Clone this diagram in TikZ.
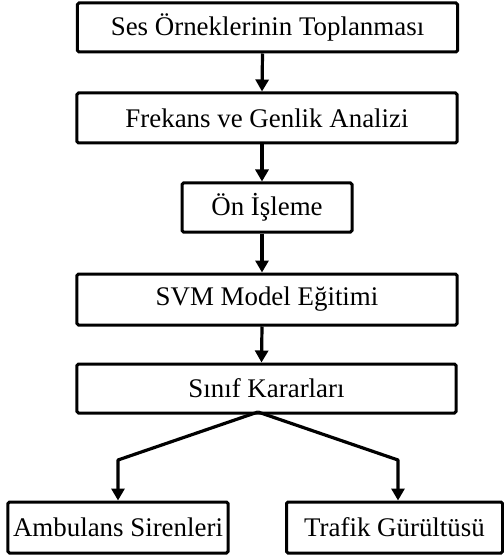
\documentclass[tikz,border=0pt]{standalone}
\usepackage{fontspec}
\setmainfont{Liberation Serif}
\usetikzlibrary{arrows.meta}

\tikzset{
    stepbox/.style={draw, line width=3bp, rounded corners=1.5bp, inner sep=0pt,
        font=\fontsize{27}{30}\selectfont},
    flow/.style={line width=3.2bp, -{Triangle[length=12bp,width=13bp]}}
}

\begin{document}
\begin{tikzpicture}[x=1bp, y=-1bp]
                \useasboundingbox (0,0) rectangle (504,556);

                \node[stepbox, minimum width=380bp, minimum height=49bp] (toplama) at (267.5, 27.5) {Ses Örneklerinin Toplanması};
                \node[stepbox, minimum width=380bp, minimum height=50bp] (analiz) at (267, 118) {Frekans ve Genlik Analizi};
                \node[stepbox, minimum width=170bp, minimum height=49bp] (onisleme) at (267, 207.5) {Ön İşleme};
                \node[stepbox, minimum width=380bp, minimum height=51bp] (egitim) at (267, 299.5) {SVM Model Eğitimi};
                \node[stepbox, minimum width=379bp, minimum height=49bp] (karar) at (266.5, 388.5) {Sınıf Kararları};
                \node[stepbox, minimum width=220bp, minimum height=51bp] (ambulans) at (118, 527.5) {Ambulans Sirenleri};
                \node[stepbox, minimum width=216bp, minimum height=51bp] (trafik) at (394.5, 527.5) {Trafik Gürültüsü};

                \draw[flow] ([xshift=-5bp]toplama.south) -- ([xshift=-5bp]analiz.north);
                \draw[flow] ([xshift=-5bp]analiz.south) -- ([xshift=-5bp]onisleme.north);
                \draw[flow] ([xshift=-5bp]onisleme.south) -- ([xshift=-5bp]egitim.north);
                \draw[flow] ([xshift=-5bp]egitim.south) -- ([xshift=-5bp]karar.north);

                \coordinate (ayrim) at (258, 412);
                \coordinate (solkose) at (118, 460);
                \coordinate (sagkose) at (398, 460);
                \draw[flow, line join=round] (ayrim) -- (solkose) -- (solkose |- ambulans.north);
                \draw[flow, line join=round] (ayrim) -- (sagkose) -- (sagkose |- trafik.north);
            \end{tikzpicture}
\end{document}
